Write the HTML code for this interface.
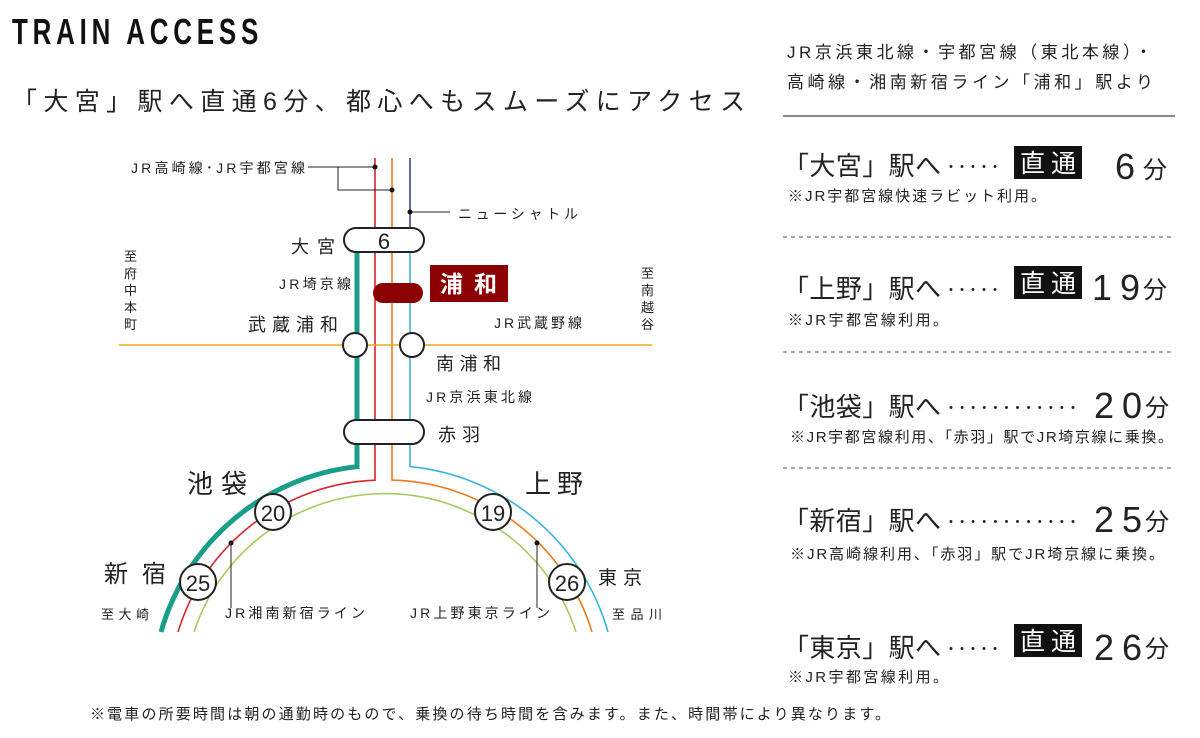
<!DOCTYPE html>
<html><head><meta charset="utf-8"><style>
html,body{margin:0;padding:0;background:#fff;}
svg{display:block;}
text{font-family:"Liberation Sans","Noto Sans CJK JP",sans-serif;fill:#222;}
</style></head><body>
<svg width="1200" height="738" viewBox="0 0 1200 738" xmlns="http://www.w3.org/2000/svg">
<!-- Title -->
<g transform="translate(12,44) scale(0.72,1)">
<text x="0" y="0" font-size="36" font-weight="bold" textLength="342" lengthAdjust="spacing" style="fill:#111">TRAIN ACCESS</text>
</g>
<text x="12" y="110" font-size="25" textLength="733" lengthAdjust="spacing">「大宮」駅へ直通6分、都心へもスムーズにアクセス</text>

<!-- Right header -->
<text x="787" y="58" font-size="17" textLength="365" lengthAdjust="spacing">JR京浜東北線・宇都宮線（東北本線）・</text>
<text x="787" y="88" font-size="17" textLength="366" lengthAdjust="spacing">高崎線・湘南新宿ライン「浦和」駅より</text>
<line x1="783" y1="116" x2="1175" y2="116" stroke="#888" stroke-width="2"/>

<!-- Entry 1 -->
<text x="783" y="175" font-size="26" textLength="158" lengthAdjust="spacing">「大宮」駅へ</text>
<text x="944" y="172" font-size="14" textLength="58" lengthAdjust="spacing">・・・・・</text>
<rect x="1014" y="146" width="68" height="33" fill="#111"/>
<text x="1020" y="172" font-size="25" style="fill:#fff" textLength="56" lengthAdjust="spacing">直通</text>
<text x="1115" y="179" font-size="36">6</text>
<text x="1143" y="178" font-size="24">分</text>
<text x="788" y="201" font-size="15" textLength="258" lengthAdjust="spacing">※JR宇都宮線快速ラビット利用。</text>
<line x1="783" y1="237" x2="1175" y2="237" stroke="#555" stroke-width="1" stroke-dasharray="4,4"/>

<!-- Entry 2 -->
<text x="783" y="298" font-size="26" textLength="158" lengthAdjust="spacing">「上野」駅へ</text>
<text x="944" y="295" font-size="14" textLength="58" lengthAdjust="spacing">・・・・・</text>
<rect x="1014" y="266" width="68" height="33" fill="#111"/>
<text x="1020" y="292" font-size="25" style="fill:#fff" textLength="56" lengthAdjust="spacing">直通</text>
<text x="1092" y="300" font-size="36" textLength="48" lengthAdjust="spacing">19</text>
<text x="1143" y="298" font-size="24">分</text>
<text x="788" y="325" font-size="15" textLength="160" lengthAdjust="spacing">※JR宇都宮線利用。</text>
<line x1="783" y1="352" x2="1175" y2="352" stroke="#555" stroke-width="1" stroke-dasharray="4,4"/>

<!-- Entry 3 -->
<text x="783" y="416" font-size="26" textLength="158" lengthAdjust="spacing">「池袋」駅へ</text>
<text x="944" y="413" font-size="14" textLength="136" lengthAdjust="spacing">・・・・・・・・・・・・</text>
<text x="1094" y="418" font-size="36" textLength="48" lengthAdjust="spacing">20</text>
<text x="1145" y="416" font-size="24">分</text>
<text x="790" y="442" font-size="15" textLength="383" lengthAdjust="spacing">※JR宇都宮線利用、「赤羽」駅でJR埼京線に乗換。</text>
<line x1="783" y1="468" x2="1175" y2="468" stroke="#555" stroke-width="1" stroke-dasharray="4,4"/>

<!-- Entry 4 -->
<text x="783" y="530" font-size="26" textLength="158" lengthAdjust="spacing">「新宿」駅へ</text>
<text x="944" y="527" font-size="14" textLength="136" lengthAdjust="spacing">・・・・・・・・・・・・</text>
<text x="1094" y="532" font-size="36" textLength="48" lengthAdjust="spacing">25</text>
<text x="1145" y="530" font-size="24">分</text>
<text x="790" y="559" font-size="15" textLength="374" lengthAdjust="spacing">※JR高崎線利用、「赤羽」駅でJR埼京線に乗換。</text>

<!-- Entry 5 -->
<text x="783" y="657" font-size="26" textLength="158" lengthAdjust="spacing">「東京」駅へ</text>
<text x="944" y="654" font-size="14" textLength="58" lengthAdjust="spacing">・・・・・</text>
<rect x="1014" y="624" width="68" height="33" fill="#111"/>
<text x="1020" y="650" font-size="25" style="fill:#fff" textLength="56" lengthAdjust="spacing">直通</text>
<text x="1094" y="660" font-size="36" textLength="48" lengthAdjust="spacing">26</text>
<text x="1145" y="657" font-size="24">分</text>
<text x="788" y="682" font-size="15" textLength="160" lengthAdjust="spacing">※JR宇都宮線利用。</text>

<!-- Footer -->
<text x="90" y="719" font-size="15" textLength="800" lengthAdjust="spacing">※電車の所要時間は朝の通勤時のもので、乗換の待ち時間を含みます。また、時間帯により異なります。</text>

<!-- ===== Diagram ===== -->
<g fill="none">
<path d="M357 252 L357 466.7 A229 229 0 0 0 161 632" stroke="#1a9e8a" stroke-width="5"/>
<path d="M375 158 L375 480.2 A214 214 0 0 0 178 632" stroke="#d9232d" stroke-width="1.6"/>
<path d="M392 158 L392 480.1 A214 214 0 0 1 592 632" stroke="#ee7a1a" stroke-width="1.6"/>
<path d="M410 228 L410 466.6 A229 229 0 0 1 608 632" stroke="#3ab4e0" stroke-width="1.6"/>
<path d="M410 158 L410 228" stroke="#4f5d95" stroke-width="1.8"/>
<path d="M194 632 A201 201 0 0 1 576 632" stroke="#a2cc5e" stroke-width="1.6"/>
</g>
<line x1="119" y1="345" x2="652" y2="345" stroke="#f0a818" stroke-width="1.5"/>

<g stroke="#222" stroke-width="1" fill="none">
<path d="M308 167 L375 167"/>
<path d="M338 167 L338 190 L392 190"/>
<path d="M410 212 L450 212"/>
<path d="M231 543 L231 608"/>
<path d="M537 543 L537 608"/>
</g>
<g fill="#111">
<circle cx="375" cy="167" r="2.5"/><circle cx="392" cy="190" r="2.5"/><circle cx="410" cy="212" r="2.5"/>
<circle cx="231" cy="543" r="2.5"/><circle cx="537" cy="543" r="2.5"/>
</g>

<g fill="#fff" stroke="#222" stroke-width="2">
<rect x="344" y="228" width="80" height="24" rx="12"/>
<rect x="344" y="420" width="80" height="24" rx="12"/>
<circle cx="355" cy="345" r="12"/>
<circle cx="412" cy="345" r="12"/>
<circle cx="273" cy="512" r="18"/>
<circle cx="198" cy="582" r="18"/>
<circle cx="493" cy="512" r="18"/>
<circle cx="567" cy="582" r="18"/>
</g>
<rect x="373" y="283" width="50" height="20" rx="10" fill="#8b0000"/>
<rect x="430" y="265" width="78" height="37" fill="#8b0000"/>
<text x="440" y="292" font-size="23" font-weight="bold" style="fill:#fff" textLength="57" lengthAdjust="spacing">浦和</text>

<text x="384" y="249" font-size="22" text-anchor="middle">6</text>
<text x="273" y="521" font-size="22" text-anchor="middle">20</text>
<text x="198" y="591" font-size="22" text-anchor="middle">25</text>
<text x="493" y="521" font-size="22" text-anchor="middle">19</text>
<text x="567" y="591" font-size="22" text-anchor="middle">26</text>

<text x="131" y="173" font-size="14" textLength="174" lengthAdjust="spacing">JR高崎線･JR宇都宮線</text>
<text x="458" y="219" font-size="14" textLength="120" lengthAdjust="spacing">ニューシャトル</text>
<text x="291" y="253" font-size="18" textLength="44" lengthAdjust="spacing">大宮</text>
<text x="279" y="289" font-size="14" textLength="72" lengthAdjust="spacing">JR埼京線</text>
<text x="248" y="331" font-size="18" textLength="90" lengthAdjust="spacing">武蔵浦和</text>
<text x="494" y="328" font-size="14" textLength="88" lengthAdjust="spacing">JR武蔵野線</text>
<text x="436" y="370" font-size="18" textLength="65" lengthAdjust="spacing">南浦和</text>
<text x="426" y="402" font-size="14" textLength="106" lengthAdjust="spacing">JR京浜東北線</text>
<text x="438" y="441" font-size="18" textLength="42" lengthAdjust="spacing">赤羽</text>
<g font-size="13">
<text x="124" y="261">至</text><text x="124" y="278">府</text><text x="124" y="295">中</text><text x="124" y="312">本</text><text x="124" y="329">町</text>
<text x="641" y="278">至</text><text x="641" y="295">南</text><text x="641" y="312">越</text><text x="641" y="329">谷</text>
</g>
<text x="187" y="493" font-size="26" textLength="60" lengthAdjust="spacing">池袋</text>
<text x="525" y="493" font-size="26" textLength="58" lengthAdjust="spacing">上野</text>
<text x="104" y="582" font-size="24" textLength="62" lengthAdjust="spacing">新宿</text>
<text x="598" y="584" font-size="19" textLength="44" lengthAdjust="spacing">東京</text>
<text x="101" y="619" font-size="13" textLength="48" lengthAdjust="spacing">至大崎</text>
<text x="612" y="619" font-size="13" textLength="50" lengthAdjust="spacing">至品川</text>
<text x="225" y="618" font-size="14" textLength="140" lengthAdjust="spacing">JR湘南新宿ライン</text>
<text x="410" y="618" font-size="14" textLength="140" lengthAdjust="spacing">JR上野東京ライン</text>
</svg>
</body></html>
